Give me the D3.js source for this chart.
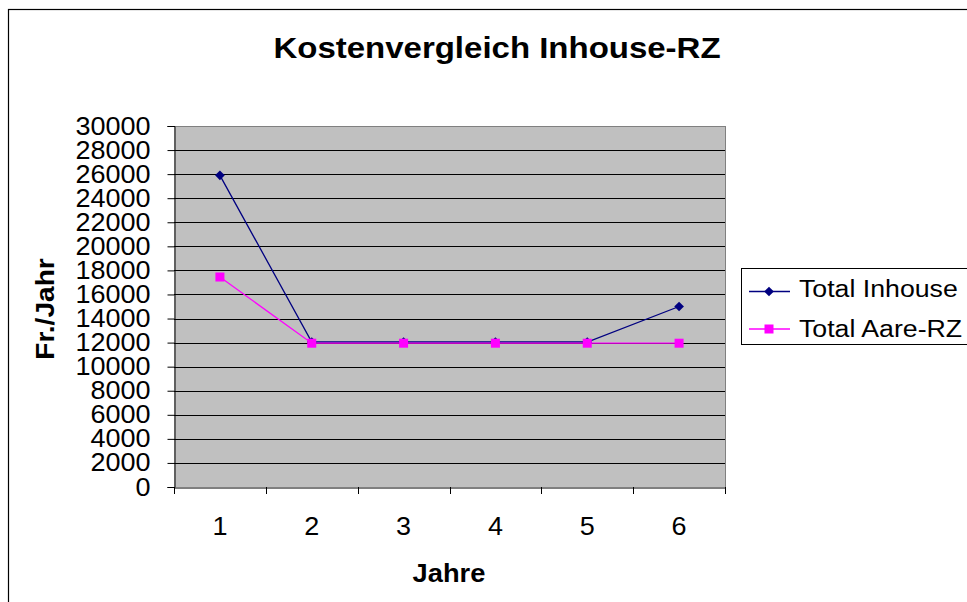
<!DOCTYPE html>
<html><head><meta charset="utf-8">
<script src="https://cdn.jsdelivr.net/npm/d3@7"></script>
<style>body{margin:0;background:#fff}svg{display:block}text{font-family:"Liberation Sans",Arial,sans-serif}</style>
</head><body>
<svg id="c" width="967" height="602"></svg>
<script>
const categories = ["1","2","3","4","5","6"];
const inhouse = [25900, 12050, 12050, 12050, 12050, 15000];
const aare = [17450, 11950, 11950, 11950, 11950, 11950];
const yTicks = [0,2000,4000,6000,8000,10000,12000,14000,16000,18000,20000,22000,24000,26000,28000,30000];
const seriesNames = ["Total Inhouse","Total Aare-RZ"];

const FONT = "Liberation Sans, Arial, sans-serif";
const svg = d3.select("#c");
svg.append("rect").attr("x",8.5).attr("y",9.5).attr("width",1000).attr("height",700)
  .attr("fill","#fff").attr("stroke","#000").attr("stroke-width",1.2);

function stext(parent, tx, ty, str, size, sx, opts={}) {
  const t = parent.append("text")
    .attr("transform", `translate(${tx},${ty})${opts.rotate?` rotate(${opts.rotate})`:""} scale(${sx},1)`)
    .attr("text-anchor", opts.anchor || "start")
    .attr("font-size", size).attr("fill","#000").text(str);
  if (opts.bold) t.attr("font-weight","bold");
  return t;
}

const L=174,R=725,T=126,B=487;
const x = d3.scaleBand().domain(categories).range([L,R]);
const y = d3.scaleLinear().domain([0,30000]).range([B,T]);

svg.append("rect").attr("x",L).attr("y",T).attr("width",R-L).attr("height",B-T).attr("fill","#c0c0c0");
svg.append("g").selectAll("line").data(yTicks.filter(d=>d>0)).join("line")
  .attr("x1",L).attr("x2",R).attr("y1",d=>Math.round(y(d))+0.5).attr("y2",d=>Math.round(y(d))+0.5)
  .attr("stroke","#000").attr("stroke-width",1);
svg.append("line").attr("x1",R+0.5).attr("x2",R+0.5).attr("y1",T).attr("y2",B).attr("stroke","#808080");
svg.append("line").attr("x1",L).attr("x2",R).attr("y1",T+0.5).attr("y2",T+0.5).attr("stroke","#808080");

// y axis
const ya = svg.append("g").attr("transform",`translate(${L+0.5},0)`)
  .call(d3.axisLeft(y).tickValues(yTicks).tickSize(7).tickPadding(17).tickFormat(d3.format("d")));
ya.select(".domain").attr("stroke","#000");
ya.selectAll("line").attr("stroke","#000");
ya.selectAll("text").attr("font-size",25).attr("fill","#000").attr("font-family",FONT)
  .attr("x",0).attr("transform","translate(-24,0) scale(1.08,1)");

// x axis
const xa = svg.append("g").attr("transform",`translate(0,${B+0.5})`)
  .call(d3.axisBottom(x).tickSize(0).tickPadding(30));
xa.select(".domain").attr("stroke","#000");
xa.selectAll("text").attr("font-size",25).attr("fill","#000").attr("font-family",FONT)
  .attr("transform","scale(1.08,1)");
const bounds = categories.map(c=>x(c)).concat([R]);
svg.append("g").selectAll("line").data(bounds).join("line")
  .attr("x1",d=>Math.round(d)+0.5).attr("x2",d=>Math.round(d)+0.5).attr("y1",B).attr("y2",B+7).attr("stroke","#000");

const cx = c => x(c)+x.bandwidth()/2;
const line = d3.line().x((d,i)=>cx(categories[i])).y(d=>y(d));
svg.append("path").datum(inhouse).attr("d",line).attr("fill","none").attr("stroke","#000080").attr("stroke-width",1.3);
svg.append("path").datum(aare).attr("d",line).attr("fill","none").attr("stroke","#ff00ff").attr("stroke-width",1.3);
const diamond = d3.symbol().type(d3.symbolDiamond2).size(60);
svg.append("g").selectAll("path").data(inhouse).join("path")
  .attr("transform",(d,i)=>`translate(${cx(categories[i])},${y(d)})`).attr("d",diamond).attr("fill","#000080");
svg.append("g").selectAll("rect").data(aare).join("rect")
  .attr("x",(d,i)=>cx(categories[i])-4.5).attr("y",d=>y(d)-4.5).attr("width",9).attr("height",9).attr("fill","#ff00ff");

// titles
stext(svg, 497, 58, "Kostenvergleich Inhouse-RZ", 30, 1.1, {anchor:"middle", bold:true});
stext(svg, 54, 309, "Fr./Jahr", 26, 1.08, {anchor:"middle", bold:true, rotate:-90});
stext(svg, 449, 581.5, "Jahre", 26, 1.05, {anchor:"middle", bold:true});

// legend
const lg = svg.append("g");
lg.append("rect").attr("x",741.5).attr("y",268.5).attr("width",300).attr("height",76).attr("fill","#fff").attr("stroke","#000");
const rows=[291.5,329];
const bases=[297.3,336.7];
const cols=["#000080","#ff00ff"];
rows.forEach((ry,i)=>{
  lg.append("line").attr("x1",749).attr("x2",790).attr("y1",ry).attr("y2",ry).attr("stroke",cols[i]).attr("stroke-width",1.3);
  if(i===0) lg.append("path").attr("transform",`translate(769,${ry})`).attr("d",diamond).attr("fill",cols[i]);
  else lg.append("rect").attr("x",764.5).attr("y",ry-4.5).attr("width",9).attr("height",9).attr("fill",cols[i]);
  stext(lg, 799, bases[i], seriesNames[i], 24.5, 1.09);
});
</script>
</body></html>
